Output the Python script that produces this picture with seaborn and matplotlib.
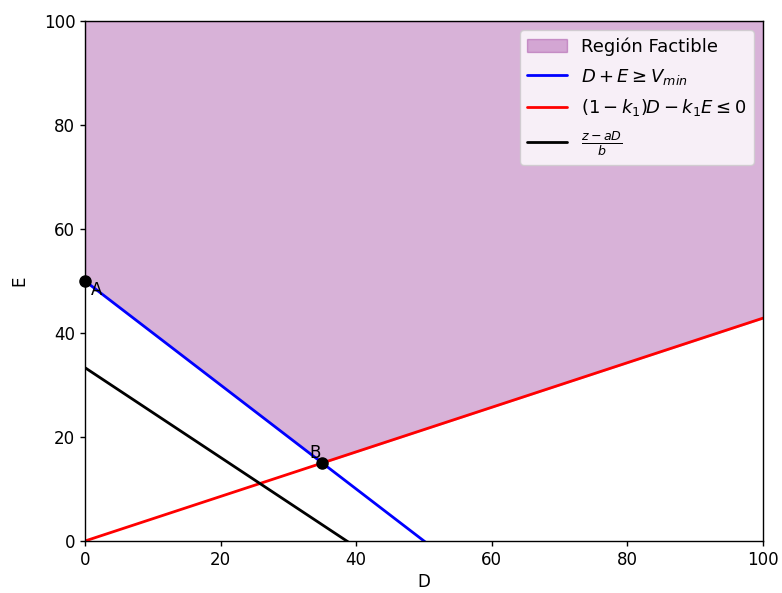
import matplotlib
matplotlib.use('Agg')
from matplotlib import pyplot as plt
import seaborn as sns

# -----------------------------------------------------------------------------
# Data

d_ends = [0, 100]
e_vmin = [50, -50]          # D + E = Vmin
e_ratio = [0, 42.86]        # (1 - k1) D - k1 E = 0
e_obj = [33.33, -53.0]      # (z - aD) / b

d_region = [0, 35, 100]
e_region_low = [50, 15, 42.86]
e_region_high = [100, 100, 100]

point_d = [0, 35]
point_e = [50, 15]
point_names = ['A', 'B']

# -----------------------------------------------------------------------------

sns.set_style('ticks', {'text.color': 'black', 'axes.labelcolor': 'black',
                        'xtick.color': 'black', 'ytick.color': 'black',
                        'axes.edgecolor': 'black'})
plt.rcParams['font.family'] = ['DejaVu Sans']
plt.rcParams['font.size'] = 12
plt.rcParams['axes.linewidth'] = 1.0

fig = plt.figure(figsize=(7.82, 5.93), dpi=100)
ax = fig.add_axes([85 / 782, 1 - 541 / 593, 678 / 782, 520 / 593])

region = ax.fill_between(d_region, e_region_low, e_region_high,
                         color='purple', alpha=0.3, label='Región Factible')

sns.lineplot(x=d_ends, y=e_vmin, color='blue', linewidth=2, ax=ax,
             label=r'$D + E \geq V_{min}$')
sns.lineplot(x=d_ends, y=e_ratio, color='red', linewidth=2, ax=ax,
             label=r'$(1 - k_1) D - k_1 E \leq 0$')
sns.lineplot(x=d_ends, y=e_obj, color='black', linewidth=2, ax=ax,
             label=r'$\frac{z - aD}{b}$')

ax.plot(point_d, point_e, 'ko', markersize=8, clip_on=False, zorder=5)
ax.annotate(point_names[0], (point_d[0], point_e[0]), xytext=(4, 0),
            textcoords='offset points', ha='left', va='top', fontsize=12)
ax.annotate(point_names[1], (point_d[1], point_e[1]), xytext=(-1, 1),
            textcoords='offset points', ha='right', va='bottom', fontsize=12)

ax.set_xlim(0, 100)
ax.set_ylim(0, 100)
ax.set_xlabel('D', fontsize=12, labelpad=3)
ax.set_ylabel('E', fontsize=12, labelpad=11)
ax.tick_params(labelsize=12, direction='out', length=3.5, width=1)
for side in ['top', 'right']:
    ax.spines[side].set_visible(True)

handles, labels = ax.get_legend_handles_labels()
order = [labels.index('Región Factible')] + \
    [i for i, lab in enumerate(labels) if lab != 'Región Factible']
ax.legend([handles[i] for i in order], [labels[i] for i in order],
          loc='upper right', fontsize=13, handlelength=2.2, labelspacing=0.6)

fig.savefig('out.png', dpi=100)
plt.close(fig)
